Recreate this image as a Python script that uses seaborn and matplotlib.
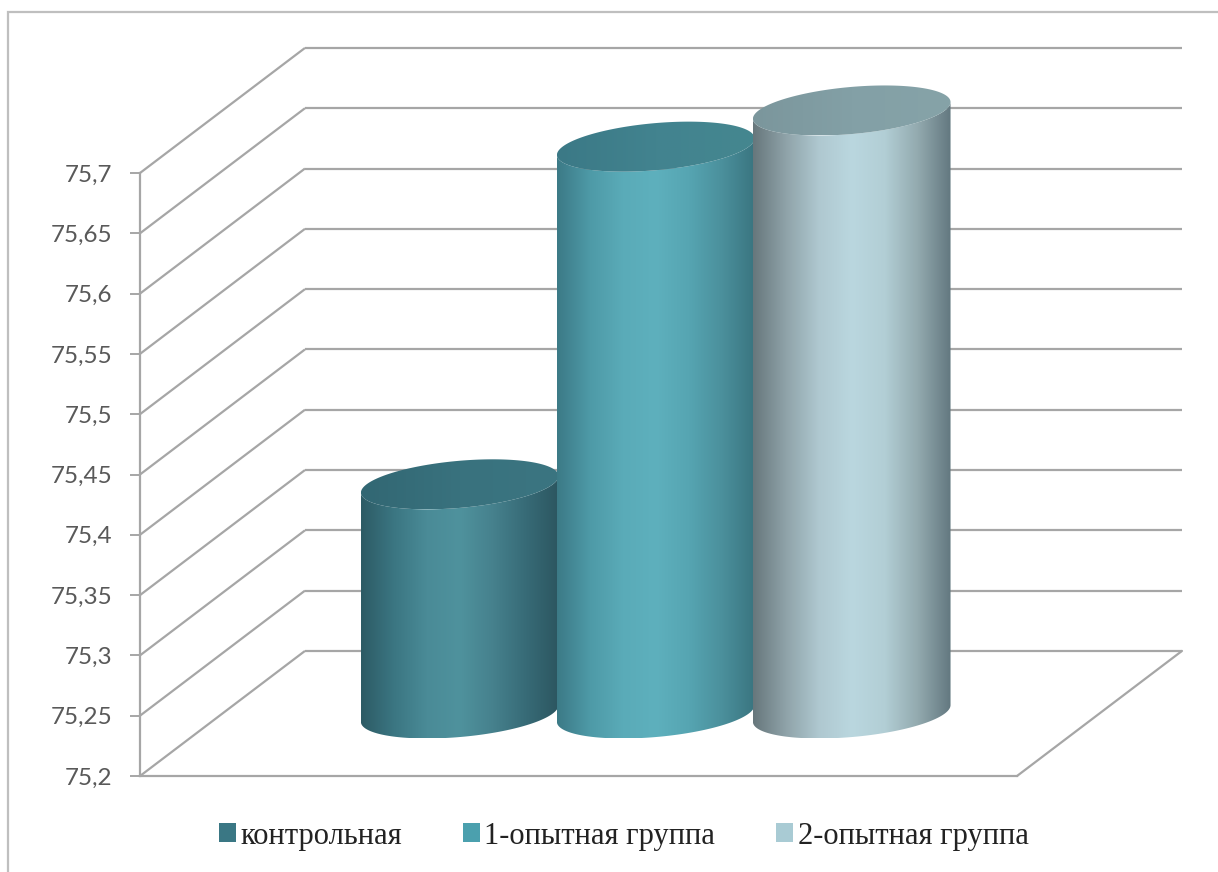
import numpy as np
import matplotlib
matplotlib.use("Agg")
import matplotlib.pyplot as plt
import seaborn as sns
from matplotlib.patches import Polygon, Rectangle
from matplotlib.font_manager import FontProperties

# ---- data -------------------------------------------------------------
groups = ["контрольная", "1-опытная группа", "2-опытная группа"]
values = [75.39, 75.67, 75.70]
y_ticks = [75.2, 75.25, 75.3, 75.35, 75.4, 75.45, 75.5, 75.55, 75.6, 75.65, 75.7]
y_tick_labels = ["75,2", "75,25", "75,3", "75,35", "75,4", "75,45",
                 "75,5", "75,55", "75,6", "75,65", "75,7"]

# ---- styling ----------------------------------------------------------
legend_colors = ["#3a7784", "#4ba0ae", "#a9cbd4"]
body_profiles = [
    ["#2d5b65", "#3b7682", "#4a8b97", "#4f929d", "#46818d", "#376b77", "#2c5660"],
    ["#3c7a86", "#4e9aa7", "#5aabb8", "#5eb0bd", "#56a5b2", "#4b909c", "#3a7580"],
    ["#67777c", "#8fa3a9", "#afc8d0", "#bad7df", "#b2ced5", "#93aaaf", "#637880"],
]
top_profiles = [
    ["#326773", "#39727e", "#3b7581"],
    ["#3b7986", "#42838f", "#45878f"],
    ["#7b969c", "#83a0a6", "#86a3a8"],
]
grid_color = "#a6a6a6"

sns.set_theme(style="white")
plt.rcParams["font.family"] = ["Lato", "DejaVu Sans"]

fig = plt.figure(figsize=(12.18, 8.72), dpi=100)
ax = fig.add_axes([140 / 1218, 96 / 872, 877 / 1218, 603 / 872])
ax.set_xlim(-0.5, 0.5)
ax.set_ylim(y_ticks[0], y_ticks[-1])

# oblique depth vector of the plot box (data units)
DX, DY = 0.1881, 0.1037
base = y_ticks[0]

# ---- walls and floor --------------------------------------------------
for t in y_ticks:
    ax.plot([-0.5, -0.5 + DX], [t, t + DY], color=grid_color, lw=1.6,
            clip_on=False, zorder=1, solid_capstyle="butt")
    ax.plot([-0.5 + DX, 0.5 + DX], [t + DY, t + DY], color=grid_color,
            lw=1.6, clip_on=False, zorder=1, solid_capstyle="butt")
ax.plot([0.5, 0.5 + DX], [base, base + DY], color=grid_color, lw=1.6,
        clip_on=False, zorder=1)

# ---- cylinders --------------------------------------------------------
n = len(values)
bar_w = 0.2235
group_shift = -0.006
R = 0.2                      # depth radius as a share of the box depth
A = 0.1062                   # horizontal radius
t0 = np.arctan2(R * DX, A)
half_w = np.hypot(A, R * DX)


def ring(xc, yc, t):
    return (xc + A * np.cos(t) + R * DX * np.sin(t),
            yc + R * DY * np.sin(t))


def shaded(poly, colors, extent, z):
    ax.add_patch(poly)
    cmap = sns.blend_palette(colors, n_colors=256, as_cmap=True)
    grad = np.linspace(0, 1, 256)[None, :]
    im = ax.imshow(grad, cmap=cmap, aspect="auto", interpolation="bilinear",
                   extent=extent, zorder=z)
    im.set_clip_box(fig.bbox)
    im.set_clip_path(poly)


for i, (v, prof, tprof) in enumerate(zip(values, body_profiles, top_profiles)):
    pos = (i - (n - 1) / 2) * bar_w + group_shift
    xc = pos + DX / 2
    yb = base + DY / 2
    yt = v + DY / 2
    front = np.linspace(t0 + np.pi, t0 + 2 * np.pi, 120)
    bx, by = ring(xc, yb, front)
    tx, ty = ring(xc, yt, front[::-1])
    body = Polygon(np.column_stack([np.r_[bx, tx], np.r_[by, ty]]),
                   closed=True, facecolor="none", edgecolor="none",
                   transform=ax.transData, clip_on=False)
    shaded(body, prof,
           [xc - half_w, xc + half_w, yb - R * DY, yt + R * DY], 3 + 2 * i)

    full = np.linspace(0, 2 * np.pi, 240)
    ex, ey = ring(xc, yt, full)
    top = Polygon(np.column_stack([ex, ey]), closed=True, facecolor="none",
                  edgecolor="none", transform=ax.transData, clip_on=False)
    shaded(top, tprof,
           [xc - half_w, xc + half_w, yt - R * DY, yt + R * DY], 4 + 2 * i)

ax.set_xlim(-0.5, 0.5)
ax.set_ylim(y_ticks[0], y_ticks[-1])

# ---- axes -------------------------------------------------------------
sns.despine(ax=ax, left=False, bottom=False, right=True, top=True)
for side in ("left", "bottom"):
    ax.spines[side].set_color(grid_color)
    ax.spines[side].set_linewidth(1.6)
    ax.spines[side].set_zorder(1)
ax.set_xticks([])
ax.set_yticks(y_ticks)
ax.set_yticklabels(y_tick_labels)
ax.tick_params(axis="y", left=True, direction="out", length=7, width=1.4,
               color=grid_color, pad=13, labelsize=17.5, labelcolor="#595959")
ax.patch.set_alpha(0)

# ---- legend -----------------------------------------------------------
handles = [Rectangle((0, 0), 1, 1, facecolor=c, edgecolor="none")
           for c in legend_colors]
fig.legend(handles, groups, loc="center", bbox_to_anchor=(0.512, 1 - 836 / 872),
           ncol=3, frameon=False, handlelength=0.55, handleheight=0.55,
           handletextpad=0.15, columnspacing=2.0, labelcolor="#222222",
           prop=FontProperties(family="Liberation Serif", size=22))

# ---- chart area border ------------------------------------------------
fig.patches.append(Rectangle((8 / 1218, -0.1), 1.2, 1 - 12 / 872 + 0.1,
                             transform=fig.transFigure, fill=False,
                             edgecolor="#bfbfbf", lw=1.6))

fig.savefig("out.png", dpi=100)
